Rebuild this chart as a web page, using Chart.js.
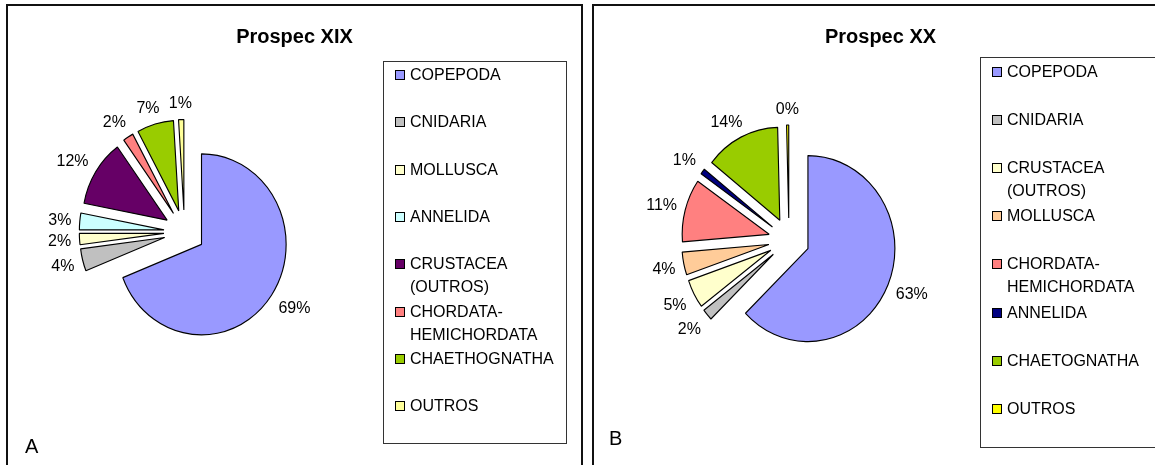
<!doctype html>
<html lang="pt">
<head>
<meta charset="utf-8">
<title>Prospec XIX / Prospec XX</title>
<script src="https://cdn.jsdelivr.net/npm/chart.js@4.4.0/dist/chart.umd.min.js"></script>
<style>
  html, body { margin: 0; padding: 0; background: #fff; }
  body { width: 1155px; height: 465px; overflow: hidden; position: relative; }
  .panel { position: absolute; top: 4px; height: 520px; border: 2px solid #111; box-sizing: border-box; }
  #panelA { left: 6px; width: 577px; }
  #panelB { left: 592px; width: 600px; }
  canvas { position: absolute; top: 5px; }
  #chartA { left: 7px; }
  #chartB { left: 593px; }
</style>
</head>
<body>
<div class="panel" id="panelA"></div>
<div class="panel" id="panelB"></div>
<canvas id="chartA" width="575" height="500"></canvas>
<canvas id="chartB" width="575" height="500"></canvas>

<script>
const FONT = "'Liberation Sans', Arial, sans-serif";

// Prospec XIX
const labelsA = ['COPEPODA', 'CNIDARIA', 'MOLLUSCA', 'ANNELIDA', 'CRUSTACEA (OUTROS)',
                 'CHORDATA-HEMICHORDATA', 'CHAETHOGNATHA', 'OUTROS'];
const valuesA = [69, 4, 2, 3, 12, 2, 7, 1];
const colorsA = ['#9999ff', '#c0c0c0', '#ffffcc', '#ccffff', '#660066', '#ff8080', '#99cc00', '#ffff99'];

// Prospec XX
const labelsB = ['COPEPODA', 'CNIDARIA', 'CRUSTACEA (OUTROS)', 'MOLLUSCA',
                 'CHORDATA-HEMICHORDATA', 'ANNELIDA', 'CHAETOGNATHA', 'OUTROS'];
const valuesB = [63, 2, 5, 4, 11, 1, 14, 0.4];
const colorsB = ['#9999ff', '#c0c0c0', '#ffffcc', '#ffcc99', '#ff8080', '#000080', '#99cc00', '#ffff00'];

// break long names after a hyphen or at a space
function wrapLabel(text) {
  return text.split(/(?<=-)|\s+/);
}

// every slice pulled out from the centre; pie a little narrower than tall
const explodedPie = {
  id: 'explodedPie',
  beforeDatasetsDraw(chart, args, opts) {
    const ctx = chart.ctx;
    chart.getDatasetMeta(0).data.forEach(arc => {
      const mid = (arc.startAngle + arc.endAngle) / 2;
      ctx.save();
      ctx.translate(arc.x, arc.y);
      ctx.scale(opts.squeeze, 1);
      ctx.translate(Math.cos(mid) * opts.distance - arc.x, Math.sin(mid) * opts.distance - arc.y);
      arc.draw(ctx);
      ctx.restore();
    });
    return false;
  },
  // percentage labels just outside each pulled-out slice
  afterDraw(chart, args, opts) {
    const ctx = chart.ctx;
    const data = chart.data.datasets[0].data;
    const total = data.reduce((a, b) => a + b, 0);
    const size = opts.labelSize;
    ctx.save();
    ctx.font = size + 'px ' + FONT;
    ctx.fillStyle = '#000';
    ctx.textAlign = 'center';
    ctx.textBaseline = 'alphabetic';
    chart.getDatasetMeta(0).data.forEach((arc, i) => {
      const mid = (arc.startAngle + arc.endAngle) / 2;
      const dx = Math.cos(mid), dy = Math.sin(mid);
      const d = opts.distance + arc.outerRadius + opts.labelGap;
      const text = Math.round(data[i] / total * 100) + '%';
      const w = ctx.measureText(text).width;
      const x = arc.x + opts.squeeze * dx * d + Math.sign(dx) * Math.min(1, 1.5 * Math.abs(dx)) * w / 2;
      const y = arc.y + dy * d + Math.sign(dy) * Math.min(1, 1.5 * Math.abs(dy)) * size / 2;
      ctx.fillText(text, x, y + size * 0.36);
    });
    ctx.restore();
  }
};

// title, boxed legend and panel letter
const panelFrame = {
  id: 'panelFrame',
  afterDraw(chart, args, opts) {
    const ctx = chart.ctx;
    const ds = chart.data.datasets[0];
    const lg = opts.legend;
    ctx.save();
    ctx.fillStyle = '#000';
    ctx.textBaseline = 'alphabetic';

    ctx.font = 'bold 20px ' + FONT;
    ctx.textAlign = 'center';
    ctx.fillText(opts.title, chart.width / 2, opts.titleY);

    ctx.lineWidth = 1;
    ctx.strokeStyle = '#333';
    ctx.strokeRect(lg.x + 0.5, lg.y + 0.5, lg.w, lg.h);

    ctx.font = '16px ' + FONT;
    ctx.textAlign = 'left';
    chart.data.labels.forEach((label, i) => {
      const y = lg.y + lg.first + i * lg.step;
      const top = Math.round(y - 4) + 0.5;
      ctx.fillStyle = ds.backgroundColor[i];
      ctx.fillRect(lg.boxX + 0.5, top, 9, 9);
      ctx.strokeStyle = '#000';
      ctx.strokeRect(lg.boxX + 0.5, top, 9, 9);
      ctx.fillStyle = '#000';
      wrapLabel(label).forEach((line, k) => {
        ctx.fillText(line, lg.textX, y + k * lg.lineGap + 6);
      });
    });

    ctx.font = '20px ' + FONT;
    ctx.fillText(opts.letter, opts.letterX, opts.letterY);
    ctx.restore();
  }
};

function makePie(id, labels, values, colors, padding, radius, frame) {
  return new Chart(document.getElementById(id), {
    type: 'pie',
    data: {
      labels: labels,
      datasets: [{
        data: values,
        backgroundColor: colors,
        borderColor: '#000',
        borderWidth: 1.2
      }]
    },
    options: {
      responsive: false,
      animation: false,
      radius: radius,
      layout: { padding: padding },
      plugins: {
        legend: { display: false },
        tooltip: { enabled: false },
        explodedPie: { distance: 22, squeeze: 0.935, labelGap: 9, labelSize: 16 },
        panelFrame: frame
      }
    },
    plugins: [explodedPie, panelFrame]
  });
}

makePie('chartA', labelsA, valuesA, colorsA,
  { left: 0, top: 0, right: 220, bottom: 46 }, 90.5,
  {
    title: 'Prospec XIX', titleY: 38, letter: 'A', letterX: 18, letterY: 448,
    legend: { x: 376, y: 56, w: 183, h: 382, first: 13, step: 47.3, lineGap: 23, boxX: 388, textX: 403 }
  });

makePie('chartB', labelsB, valuesB, colorsB,
  { left: 0, top: 0, right: 183, bottom: 30 }, 93,
  {
    title: 'Prospec XX', titleY: 38, letter: 'B', letterX: 16, letterY: 440,
    legend: { x: 387, y: 52, w: 200, h: 390, first: 14, step: 48.1, lineGap: 23, boxX: 399, textX: 414 }
  });
</script>
</body>
</html>
